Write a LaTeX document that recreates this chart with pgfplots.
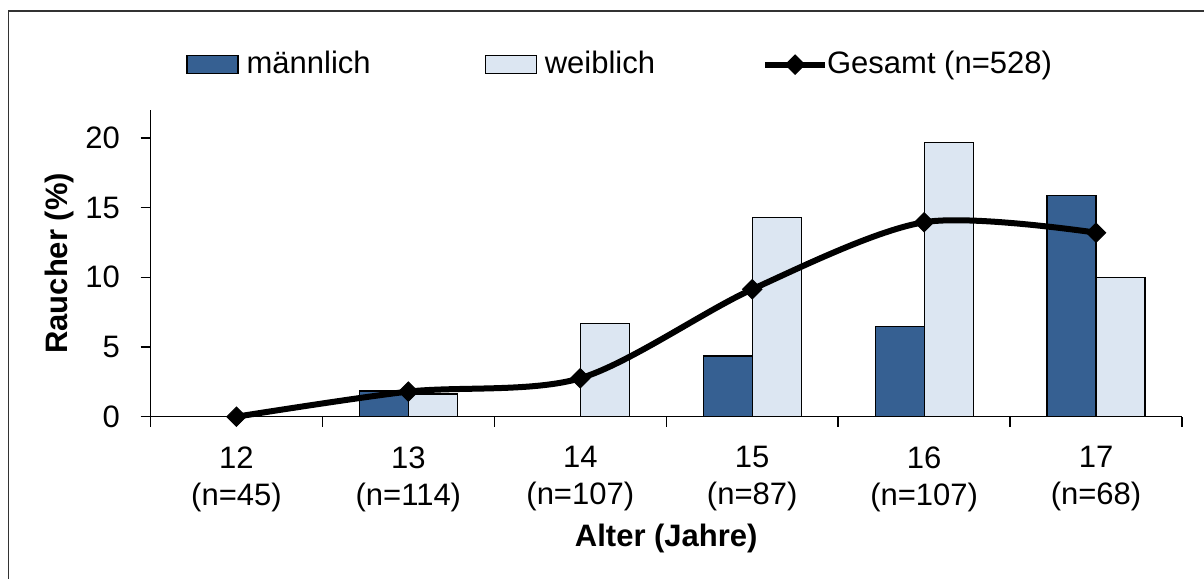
\documentclass[border=0pt]{standalone}
\usepackage{fontspec}
\setmainfont{Liberation Sans}
\usepackage{pgfplots}
\pgfplotsset{compat=1.18}

\definecolor{maennl}{RGB}{54,96,146}
\definecolor{weibl}{RGB}{220,230,242}

\pgfplotsset{
  barlegend/.style={legend image code/.code={\draw[##1] (0pt,-4.5pt) rectangle (25.5pt,4.5pt);}},
  linelegend/.style={legend image code/.code={\draw[##1, mark repeat=2, mark phase=2] plot coordinates {(0pt,0pt) (15pt,0pt) (30pt,0pt)};}},
}

\begin{document}
\fontsize{15.5}{18.5}\selectfont
\begin{tikzpicture}
\useasboundingbox (0pt,0pt) rectangle (602pt,289pt);
% Rahmen (nur links und oben sichtbar)
\draw[line width=0.65pt, black!80] (4.25pt,-2pt) -- (4.25pt,283.5pt) -- (605pt,283.5pt);
\begin{axis}[
    at={(75.25pt,80.65pt)}, anchor=south west,
    scale only axis,
    width=515.75pt, height=153.35pt,
    xmin=-0.5, xmax=5.5,
    ymin=0, ymax=22,
    axis lines=left,
    axis line style={-, line width=0.7pt},
    tick style={line width=0.7pt, black},
    tick align=outside,
    major tick length=5pt,
    ytick={0,5,10,15,20},
    yticklabel shift=5pt,
    /pgf/number format/assume math mode=true,
    xtick={-0.5,0.5,...,5.5},
    xticklabels={},
    extra x ticks={0,1,2,3,4,5},
    extra x tick labels={{12\\(n=45)},{13\\(n=114)},{14\\(n=107)},{15\\(n=87)},{16\\(n=107)},{17\\(n=68)}},
    extra x tick style={major tick length=0pt, xticklabel style={align=center}, xticklabel shift=9.5pt},
    ylabel={\textbf{Raucher (\%)}},
    ylabel style={at={(axis description cs:-0.0878,0.5)}, anchor=center},
    xlabel={\textbf{Alter (Jahre)}},
    xlabel style={at={(axis description cs:0.5,-0.396)}, anchor=center},
    clip=false,
    legend columns=3,
    legend style={at={(axis description cs:0.0286,1.148)}, anchor=west,
        draw=none, fill=none, nodes={inner sep=2pt},
        /tikz/column 1/.style={column sep=2pt},
        /tikz/column 2/.style={column sep=55pt},
        /tikz/column 3/.style={column sep=2pt},
        /tikz/column 4/.style={column sep=51.5pt},
        /tikz/column 5/.style={column sep=-2.5pt}},
]
\addplot[ybar, bar width=24.5pt, bar shift=-12.25pt, fill=maennl, draw=black, line width=0.6pt, barlegend]
    coordinates {(0,0) (1,1.85) (2,0) (3,4.35) (4,6.46) (5,15.84)};
\addlegendentry{männlich}
\addplot[ybar, bar width=24.5pt, bar shift=12.25pt, fill=weibl, draw=black, line width=0.6pt, barlegend]
    coordinates {(0,0) (1,1.63) (2,6.71) (3,14.28) (4,19.68) (5,9.96)};
\addlegendentry{weiblich}
\addplot[smooth, black, line width=3pt, mark=square*, mark size=3.4pt,
    mark options={rotate=45, line width=0.5pt, fill=black}, linelegend]
    coordinates {(0,0) (1,1.8) (2,2.76) (3,9.14) (4,13.95) (5,13.2)};
\addlegendentry{Gesamt (n=528)}
\end{axis}
\end{tikzpicture}
\end{document}
